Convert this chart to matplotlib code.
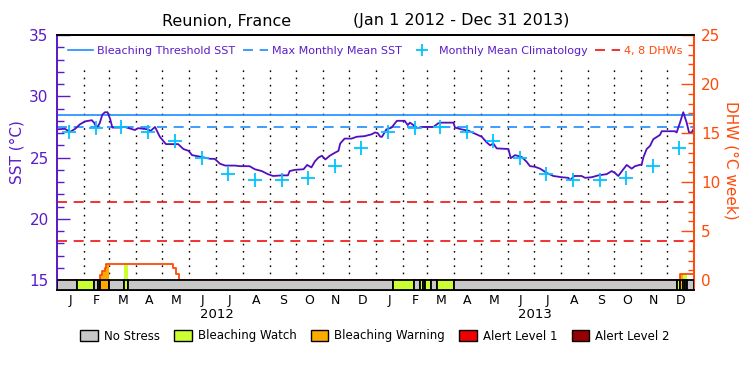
import numpy as np
import matplotlib
matplotlib.use('Agg')
import matplotlib.pyplot as plt
from matplotlib.patches import Patch
from matplotlib.lines import Line2D

# x values are days since 2012-01-01
sst_day = [0, 9, 15, 21, 26, 32, 40, 43, 45.5, 49, 52, 55, 58, 61, 63.5, 72, 78, 80,
           89.5, 93, 99, 105, 107, 112.5, 118, 125, 130, 139, 145, 151, 155, 166, 176,
           181, 187, 193, 204, 210, 221, 227, 235, 242, 248, 258, 265, 267, 273, 283,
           287, 292, 296, 300, 304, 308, 313, 319, 323, 325, 330, 338, 344, 353, 361,
           365, 368, 371, 373, 378, 384, 390, 399, 402.5, 405, 409, 413, 418.5, 432,
           437.5, 441.5, 455, 456.7, 464.4, 472, 479.7, 487.4, 493, 497, 500.7, 504.6,
           518, 520.7, 525.6, 533.3, 539, 542.8, 548.5, 554.3, 562, 569.6, 579.2,
           586.8, 588.7, 593.6, 602, 606, 613.6, 621.2, 630.8, 636.6, 640.3, 644.1,
           649.9, 653.8, 659.5, 663.3, 671, 672.8, 676.7, 680.5, 684.3, 692, 693.9,
           709.2, 711.1, 714.9, 718.7, 722.6, 725.3, 728.3, 731]
sst_val = [27.3, 27.35, 27.1, 27.35, 27.7, 27.95, 28.05, 27.8, 27.4, 27.8, 28.5, 28.7,
           28.7, 28.15, 27.45, 27.45, 27.5, 27.45, 27.25, 27.4, 27.35, 27.3, 27.15, 27.5,
           26.7, 26.1, 26.1, 26.1, 25.7, 25.55, 25.2, 25.05, 24.9, 24.9, 24.5, 24.35,
           24.35, 24.3, 24.3, 24.05, 23.9, 23.65, 23.5, 23.55, 23.55, 23.9, 24.0, 24.05,
           24.4, 24.2, 24.7, 25.0, 25.15, 24.85, 25.15, 25.4, 25.55, 26.15, 26.55, 26.55,
           26.7, 26.75, 26.9, 27.05, 27.0, 26.7, 26.7, 27.3, 27.45, 28.0, 28.0, 27.65,
           27.85, 27.65, 27.4, 27.5, 27.5, 27.8, 27.85, 27.85, 27.45, 27.3, 27.2, 26.95,
           26.7, 26.25, 26.0, 26.15, 25.75, 25.7, 24.95, 25.2, 25.05, 24.65, 24.3, 24.25,
           24.1, 23.75, 23.5, 23.4, 23.35, 23.15, 23.5, 23.5, 23.35, 23.4, 23.55, 23.65,
           23.9, 23.75, 23.5, 24.05, 24.4, 24.1, 24.3, 24.45, 25.0, 25.7, 25.95, 26.5,
           26.85, 27.15, 27.15, 27.05, 27.85, 28.7, 27.85, 27.05, 27.05, 27.4]

clim_month = [27.1, 27.45, 27.5, 27.1, 26.35, 24.95, 23.7, 23.15, 23.15, 23.35, 24.3, 25.75]
mmm = 27.5
threshold = 28.5

dhw_day = [0, 49.3, 52.2, 54.8, 56.8, 133.5, 136.5, 140.3, 714.9, 731]
dhw_val = [0, 0.55, 0.9, 1.25, 1.65, 1.25, 0.6, 0, 0.6, 0.6]
dhw_lines = [4, 8]

# stress bar: segment start days and level (0 none, 1 watch, 2 warning, 3 alert1, 4 alert2)
stress_start = [0, 22.6, 42.8, 46.7, 49.3, 60, 76.9, 81.1, 385.9, 410, 416.9, 420.3,
                422.3, 428.8, 435.7, 455.9, 711.8, 714.9, 718, 720.5, 723.5]
stress_level = [0, 1, 0, 1, 2, 0, 1, 0, 1, 0, 1, 0, 1, 0, 1, 0, 1, 2, 1, 1, 0]
stress_names = ['No Stress', 'Bleaching Watch', 'Bleaching Warning', 'Alert Level 1', 'Alert Level 2']
stress_cols = ['#c8c8c8', '#ccff33', '#ffaa00', '#f00000', '#960000']

month_letters = list('JFMAMJJASOND') * 2
years = ['2012', '2013']

purple = '#5a1cc8'
orange = '#ff4a0a'
blue = '#1a8cff'
cyan = '#00c4ff'
red = '#ee1111'

months = np.arange('2012-01', '2014-02', dtype='datetime64[M]').astype('datetime64[D]')
month_start = (months - np.datetime64('2012-01-01')).astype(float)
month_mid = (month_start[:-1] + month_start[1:]) / 2
clim_day = month_start[:-1] + 14
clim_val = clim_month * 2
ndays = month_start[-1]

ymin_sst = 14.2
fig = plt.figure(figsize=(7.5, 3.75), dpi=100)
ax = fig.add_axes([57/750, 1-290/375, 637/750, 255/375])
ax2 = ax.twinx()
ax.set_xlim(0, ndays)
ax.set_ylim(ymin_sst, 35)
ax2.set_ylim((ymin_sst-15)*1.25, 25)

# month dividers
for d in month_start[1:-1]:
    ax.axvline(d, ymin=9/255, ymax=225/255, color='k', lw=1, ls=(0, (1.2, 4)))

ax.axhline(threshold, color=blue, lw=1.2)
ax.axhline(mmm, color=blue, lw=1.2, ls=(0, (6, 4)))
for v in dhw_lines:
    ax2.axhline(v, color=red, lw=1.2, ls=(0, (6, 4)))
ax.plot(sst_day, sst_val, color='#5010c0', lw=1.3)
ax.plot(clim_day, clim_val, ls='none', marker='+', ms=10, mew=1.3, color=cyan)

# DHW filled by stress colour, then the line, then the stress bar
dd = np.array(dhw_day)
dv = np.array(dhw_val)
stress_end = stress_start[1:] + [ndays]
for s, e, lv in zip(stress_start, stress_end, stress_level):
    if lv == 0:
        continue
    xs = np.concatenate([[s], dd[(dd > s) & (dd < e)], [e]])
    ys = dv[np.searchsorted(dd, xs, side='right') - 1]
    ax2.fill_between(xs, 0, ys, step='post', color=stress_cols[lv], lw=0, zorder=1)
ax2.step(dhw_day, dhw_val, where='post', color=orange, lw=1.3, zorder=2)
ax2.bar(stress_start, height=(15-ymin_sst)*1.25,
        width=np.array(stress_end) - np.array(stress_start), bottom=(ymin_sst-15)*1.25,
        align='edge', color=[stress_cols[l] for l in stress_level],
        edgecolor='k', lw=1.3, zorder=3)

# axes styling
ax.set_yticks(np.arange(15, 36, 5))
ax.set_yticks(np.arange(15, 36, 1), minor=True)
ax.tick_params(axis='y', which='both', direction='in', colors=purple, labelsize=11, width=1)
ax.tick_params(axis='y', which='major', length=9.5, pad=6)
ax.tick_params(axis='y', which='minor', length=5)
ax2.set_yticks(np.arange(0, 26, 5))
ax2.set_yticks(np.arange(0, 26, 1), minor=True)
ax2.tick_params(axis='y', which='both', direction='in', colors=orange, labelsize=11, width=1)
ax2.tick_params(axis='y', which='major', length=9.5, pad=5)
ax2.tick_params(axis='y', which='minor', length=4.5)
ax.set_xticks(month_mid, month_letters)
ax.tick_params(axis='x', length=0, pad=3, labelsize=9)
for a in (ax, ax2):
    a.spines['left'].set_color(purple)
    a.spines['right'].set_color(orange)
    for sp in a.spines.values():
        sp.set_linewidth(1.3)
for i, y in enumerate(years):
    ax.text((month_start[12*i] + month_start[12*i+12]) / 2, -24.5/255, y,
            transform=ax.get_xaxis_transform(), ha='center', va='center', fontsize=9.5)

ax.set_ylabel('SST (°C)', color=purple, fontsize=11, va='center')
ax.yaxis.set_label_coords(-40/637, 138/255)
ax2.set_ylabel('DHW (°C week)', color=orange, fontsize=11, rotation=270, va='center')
ax2.yaxis.set_label_coords(1 + 37/637, 130/255)

fig.text(227/750, 1-21/375, 'Reunion, France', ha='center', va='center', fontsize=11.5)
fig.text(461/750, 1-21/375, '(Jan 1 2012 - Dec 31 2013)', ha='center', va='center', fontsize=11.5)

handles = [Line2D([], [], color=blue, lw=1.2),
           Line2D([], [], color=blue, lw=1.2, ls=(0, (6, 4))),
           Line2D([], [], color=cyan, marker='+', ls='none', ms=9, mew=1.3),
           Line2D([], [], color=red, lw=1.2, ls=(0, (6, 4)))]
labels = ['Bleaching Threshold SST', 'Max Monthly Mean SST', 'Monthly Mean Climatology', '4, 8 DHWs']
ax2.legend(handles, labels, loc='center', bbox_to_anchor=(0.5, 1-16/255), ncol=4, frameon=False,
           fontsize=8, handlelength=2.2, handletextpad=0.4, columnspacing=0.7,
           labelcolor=[purple, purple, purple, orange])

patches = [Patch(facecolor=c, edgecolor='k', lw=1) for c in stress_cols]
fig.legend(patches, stress_names, loc='center', bbox_to_anchor=(0.5, 1-336/375), ncol=5,
           frameon=False, fontsize=8.5, handlelength=1.5, handleheight=1.0,
           handletextpad=0.5, columnspacing=1.2)

fig.savefig('out.png', dpi=100)
